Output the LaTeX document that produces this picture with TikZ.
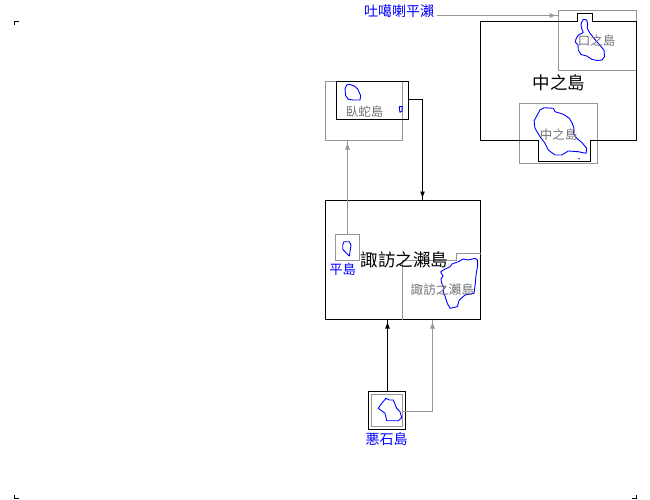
\documentclass[tikz,border=0pt]{standalone}
\usepackage{fontspec}
\setmainfont{Noto Sans CJK TC}
\newfontfamily\jpfont{Noto Sans CJK JP}
\usetikzlibrary{positioning}
\usetikzlibrary{arrows.meta,decorations.markings}
\definecolor{mapgray}{HTML}{969696}
\tikzset{
  graybox/.style={draw=mapgray,line width=1pt,inner sep=0pt,outer sep=0pt,anchor=north west},
  blackbox/.style={draw=black,line width=1pt,inner sep=0pt,outer sep=0pt,anchor=north west},
  outline/.style={draw=black,line width=1pt},
  island/.style={draw=blue,line width=0.9pt,line join=round},
  blacklink/.style={draw=black,line width=1pt,decoration={markings,mark=at position -2pt with {\arrow{Latex[length=7pt,width=5pt]}}},postaction={decorate}},
  graylink/.style={draw=mapgray,line width=1pt,decoration={markings,mark=at position -2pt with {\arrow[mapgray]{Latex[length=7pt,width=5pt]}}},postaction={decorate}},
  graylabel/.style={text=black!55,inner sep=0pt},
  bluelabel/.style={text=blue,inner sep=0pt},
  blacklabel/.style={text=black,inner sep=0pt}
}
\begin{document}
\begin{tikzpicture}[x=1pt,y=-1pt]
  \useasboundingbox (0,0) rectangle (650,500);
  % crop marks
  \foreach \px/\py/\dx/\dy in {14.5/21.5/4.5/4, 14.5/498.5/4.5/-4, 636.5/498.5/-4.5/-4}
    \draw[line width=1pt] (\px+\dx,\py) -- (\px,\py) -- (\px,\py+\dy);
  % boxes
  \node[graybox,minimum width=78pt,minimum height=60pt] (kuchibox) at (558.5,10.5) {};
  \node[graybox,minimum width=78pt,minimum height=60pt] (nakabox) at (519.5,103.5) {};
  \node[graybox,minimum width=77pt,minimum height=59pt] (gajabox) at (325.5,81.5) {};
  \node[blackbox,minimum width=72pt,minimum height=38pt] (gajaland) at (336.5,81.5) {};
  \node[blackbox,minimum width=155pt,minimum height=119pt] (suwabox) at (325.5,200.5) {};
  \node[graybox,minimum width=24pt,minimum height=26pt] (hirabox) at (335.5,234.5) {};
  \node[blackbox,minimum width=37pt,minimum height=38pt] (akubox) at (368.5,391.5) {};
  \node[graybox,minimum width=31pt,minimum height=32pt] (akuinner) at (371.5,394.5) {};
  \draw[outline] (480.5,21.5) -- (577.5,21.5) -- (577.5,13.5) -- (592.5,13.5) -- (592.5,21.5) -- (636.5,21.5)
    -- (636.5,140.5) -- (590.5,140.5) -- (590.5,161.5) -- (538.5,161.5) -- (538.5,140.5) -- (480.5,140.5) -- cycle;
  \draw[draw=mapgray,line width=1pt] (402.5,319.5) |- (456.5,260.5) |- (480.5,253.5);
  % islands
  \draw[island] (583.3,19.3) -- (586.7,20) -- (587.7,24) -- (587.2,28.3) -- (590,33.3) -- (593.3,37.3) -- (596.7,41.7) -- (599,44) -- (601,46.7)
    -- (604,50) -- (604.5,56.7) -- (602,60) -- (597,60.5) -- (591.7,59.3) -- (586.7,56) -- (581,54.5) -- (578.3,50) -- (578,45) -- (575.3,42) -- (576,39)
    -- (578.3,35) -- (583.3,32.5) -- (581.5,28) -- (581,24) -- cycle;
  \draw[island] (544,107.7) -- (553.3,108.3) -- (555,111.7) -- (563.3,114.3) -- (569.3,118.3) -- (572.3,123.3)
    -- (574,128.3) -- (573.3,133.3) -- (576.7,138.3) -- (581.7,142.3) -- (586.7,148.3) -- (586,153.3) -- (578.3,151.7)
    -- (568.3,151) -- (561.7,155) -- (555,155) -- (548.3,150) -- (545,143.3) -- (540,136.7) -- (535,128.3) -- (534,121)
    -- (537.3,115) -- (540,110) -- cycle;
  \draw[island] (578.6,158) -- (579.6,159);
  \draw[island] (349.3,84.3) -- (354.3,86) -- (357.7,89) -- (360.7,95.7) -- (360,100) -- (353.3,100) -- (348.3,99.3)
    -- (345.7,95.7) -- (345,89) -- (346.7,85) -- cycle;
  \draw[island] (399.3,106.7) -- (402.3,106.7) -- (402,111) -- (400,112.3) -- (399.3,108.3) -- cycle;
  \draw[island] (344,241.7) -- (349.3,241.7) -- (351,245) -- (350,251.7) -- (349.3,256) -- (346,252.7) -- (342.7,249.3)
    -- (342.7,245) -- cycle;
  \draw[island] (475,258.3) -- (477.3,260) -- (477.7,265) -- (476,275) -- (475.3,283.3) -- (474,293.3) -- (465,295)
    -- (459.3,300) -- (457.3,306.7) -- (450,308.3) -- (447.3,303.3) -- (445,296) -- (443,291.7) -- (444,288) -- (441.7,283.3) -- (441,279) -- (443,276) -- (440.7,272)
    -- (443.3,270) -- (450,266.7) -- (452,264) -- (458.3,261.7) -- (463,259) -- (468.3,260) -- cycle;
  \draw[island] (386,398.3) -- (389.3,400) -- (393.3,400) -- (396.7,408.3) -- (400,411.7) -- (401.7,417.7) -- (398.3,420.7)
    -- (386.7,420.7) -- (385,413.3) -- (378.3,408.3) -- (381.7,403.3) -- cycle;
  % labels
  \node[bluelabel,font=\fontsize{14}{14}\selectfont] (tokara) at (399,11) {吐噶喇平瀨};
  \node[blacklabel,font=\fontsize{17.5}{17.5}\selectfont] (nakaname) at (559,83) {中之島};
  \node[graylabel,font=\fontsize{12.5}{12.5}\selectfont] (kuchiname) at (596.5,41) {口之島};
  \node[graylabel,font=\fontsize{12.5}{12.5}\selectfont] (nakainner) at (558.6,135) {中之島};
  \node[graylabel,font=\fontsize{12.5}{12.5}\selectfont] (gajaname) at (364.6,112) {臥蛇島};
  \node[blacklabel,font=\fontsize{17.5}{17.5}\selectfont] (suwaname) at (404.5,259.5) {諏訪之瀨島};
  \node[graylabel,font=\fontsize{12.7}{12.7}\selectfont] (suwainner) at (442.3,289.3) {諏訪之瀨島};
  \node[bluelabel,font=\fontsize{13.3}{13.3}\selectfont] (hiraname) at (342.7,269) {平島};
  \node[bluelabel,font=\fontsize{14}{14}\selectfont\jpfont] (akuname) at (386.5,439) {悪石島};
  % connectors
  \coordinate (tokaend) at (437,15.5);
  \coordinate (suwatop) at (422.5,200.5);
  \coordinate (suwabottom) at (432.5,319.5);
  \draw[graylink] (tokaend) -- (tokaend -| kuchibox.west);
  \draw[blacklink] ([yshift=1pt]gajaland.east) -| (suwatop);
  \draw[graylink] (hirabox.north) -- (hirabox.north |- gajabox.south);
  \draw[blacklink] ([xshift=0.5pt]akubox.north) -- ([xshift=0.5pt]akubox.north |- suwabox.south);
  \draw[graylink] ([yshift=-1pt]akuinner.east) -| (suwabottom);
\end{tikzpicture}
\end{document}
